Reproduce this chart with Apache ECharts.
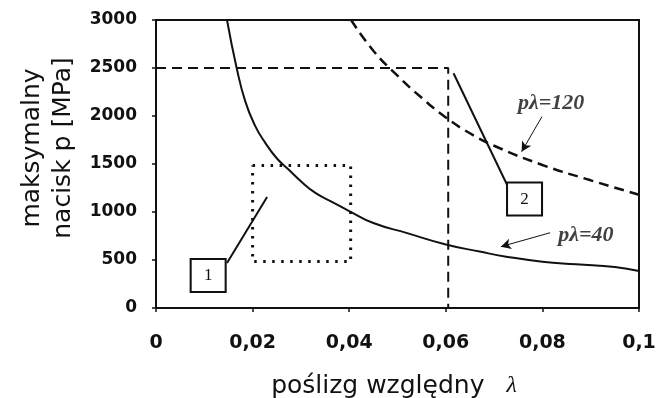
<!DOCTYPE html>
<html>
<head>
<meta charset="utf-8">
<script src="https://cdn.jsdelivr.net/npm/echarts@6/dist/echarts.min.js"></script>
<style>html,body{margin:0;padding:0;background:#fff;}#c{width:671px;height:398px;}</style>
</head>
<body>
<div id="c"></div>
<script>
// ---- data ----
const xTickLabels = ['0', '0,02', '0,04', '0,06', '0,08', '0,1'];
const yTickLabels = ['0', '500', '1000', '1500', '2000', '2500', '3000'];

// p*lambda = 40 (solid)
const curve40 = [
  [0.0147, 3000], [0.0167, 2500], [0.0185, 2150], [0.0205, 1900], [0.0225, 1730],
  [0.0250, 1560], [0.0275, 1440], [0.0300, 1320], [0.0330, 1200], [0.0370, 1090],
  [0.0400, 1010], [0.0450, 885], [0.0520, 780], [0.0600, 662], [0.0670, 588],
  [0.0725, 535], [0.0800, 482], [0.0870, 456], [0.0950, 428], [0.1000, 385]
];
// p*lambda = 120 (dashed)
const curve120 = [
  [0.0404, 3000], [0.0450, 2680], [0.0500, 2420], [0.0550, 2190], [0.0600, 1985],
  [0.0650, 1820], [0.0700, 1690], [0.0800, 1490], [0.0900, 1330], [0.1000, 1180]
];
// limit lines (dashed)
const limitLines = [[0, 2500], [0.0605, 2500], [0.0605, 0]];
// dotted rectangle
const dottedRect = [[0.02, 1485], [0.0403, 1485], [0.0403, 485], [0.02, 485], [0.02, 1485]];
// numbered boxes and their leader lines
const boxes = [
  { name: '1', value: [0.0108, 339] },
  { name: '2', value: [0.0763, 1135] }
];
const leader1 = [[0.0147, 469], [0.0230, 1156]];
const leader2 = [[0.0616, 2445], [0.0727, 1281]];
// curve labels and arrows
const curveLabels = [
  { name: 'pλ=120', value: [0.0818, 2135] },
  { name: 'pλ=40', value: [0.0890, 760] }
];
const arrow120 = [[0.0799, 1993], [0.0757, 1628]];
const arrow40 = [[0.0816, 784], [0.0714, 639]];

const BLACK = '#111';
const chart = echarts.init(document.getElementById('c'), null, { renderer: 'canvas' });

const lineBase = {
  type: 'line', showSymbol: false, symbol: 'none', silent: true, animation: false
};

chart.setOption({
  backgroundColor: '#fff',
  animation: false,
  grid: { left: 156, right: 32, top: 20, bottom: 90, containLabel: false, outerBoundsMode: 'none',
    show: true, borderColor: BLACK, borderWidth: 2, backgroundColor: 'transparent' },
  xAxis: {
    type: 'value', min: 0, max: 0.1, interval: 0.02,
    axisLine: { show: true, lineStyle: { color: BLACK, width: 2 } },
    axisTick: { show: true, inside: false, length: 4, lineStyle: { color: BLACK, width: 1.5 } },
    splitLine: { show: false },
    axisLabel: {
      margin: 26, color: BLACK, fontFamily: 'DejaVu Sans', fontWeight: 'bold', fontSize: 19,
      formatter: v => xTickLabels[Math.round(v / 0.02)]
    }
  },
  yAxis: {
    type: 'value', min: 0, max: 3000, interval: 500,
    axisLine: { show: true, lineStyle: { color: BLACK, width: 2 } },
    axisTick: { show: true, inside: false, length: 4, lineStyle: { color: BLACK, width: 1.5 } },
    splitLine: { show: false },
    axisLabel: {
      margin: 19, color: BLACK, fontFamily: 'DejaVu Sans', fontWeight: 'bold', fontSize: 17,
      formatter: v => yTickLabels[Math.round(v / 500)]
    }
  },
  graphic: [
    {
      type: 'text', x: 48, y: 148, rotation: Math.PI / 2,
      style: {
        text: 'maksymalny\nnacisk p [MPa]', fill: BLACK,
        font: '25px "DejaVu Sans"', lineHeight: 31,
        align: 'center', verticalAlign: 'middle'
      }
    },
    {
      type: 'text', x: 394, y: 386,
      style: {
        text: '{a|poślizg względny}{b|λ}', fill: BLACK, align: 'center', verticalAlign: 'middle',
        rich: {
          a: { fontFamily: 'DejaVu Sans', fontSize: 25, fill: BLACK, padding: [0, 22, 0, 0] },
          b: { fontFamily: 'Liberation Serif', fontStyle: 'italic', fontSize: 24, fill: BLACK }
        }
      }
    }
  ],
  series: [
    Object.assign({}, lineBase, {
      name: 'p40', data: curve40, smooth: 0.5,
      lineStyle: { color: BLACK, width: 2 }
    }),
    Object.assign({}, lineBase, {
      name: 'p120', data: curve120, smooth: 0.5,
      lineStyle: { color: BLACK, width: 2.5, type: [10, 6] }
    }),
    Object.assign({}, lineBase, {
      name: 'limits', data: limitLines,
      lineStyle: { color: BLACK, width: 2, type: [10, 6] }
    }),
    Object.assign({}, lineBase, {
      name: 'rect', data: dottedRect,
      lineStyle: { color: BLACK, width: 3, type: [2.5, 6.5] }
    }),
    Object.assign({}, lineBase, {
      name: 'leader1', data: leader1, lineStyle: { color: BLACK, width: 2 }
    }),
    Object.assign({}, lineBase, {
      name: 'leader2', data: leader2, lineStyle: { color: BLACK, width: 2 },
      markLine: {
        silent: true, animation: false, symbol: ['none', 'arrow'], symbolSize: [8, 10],
        label: { show: false },
        lineStyle: { color: BLACK, width: 1, type: 'solid' },
        data: [
          [{ coord: arrow120[0], lineStyle: { curveness: 0.15 } }, { coord: arrow120[1] }],
          [{ coord: arrow40[0], lineStyle: { curveness: -0.25 } }, { coord: arrow40[1] }]
        ]
      }
    }),
    {
      type: 'scatter', name: 'boxes', data: boxes, silent: true, animation: false, z: 5,
      symbol: 'rect', symbolSize: [35, 33],
      itemStyle: { color: '#fff', borderColor: BLACK, borderWidth: 2, opacity: 1 },
      label: {
        show: true, position: 'inside', formatter: p => p.name, color: BLACK,
        fontFamily: 'Liberation Serif', fontSize: 17
      }
    },
    {
      type: 'scatter', name: 'labels', data: curveLabels, silent: true, animation: false, z: 5,
      symbolSize: 0,
      label: {
        show: true, position: 'inside', formatter: p => p.name, color: BLACK,
        fontFamily: 'Liberation Serif', fontStyle: 'italic', fontWeight: 'bold', fontSize: 22
      }
    }
  ]
});
</script>
</body>
</html>
